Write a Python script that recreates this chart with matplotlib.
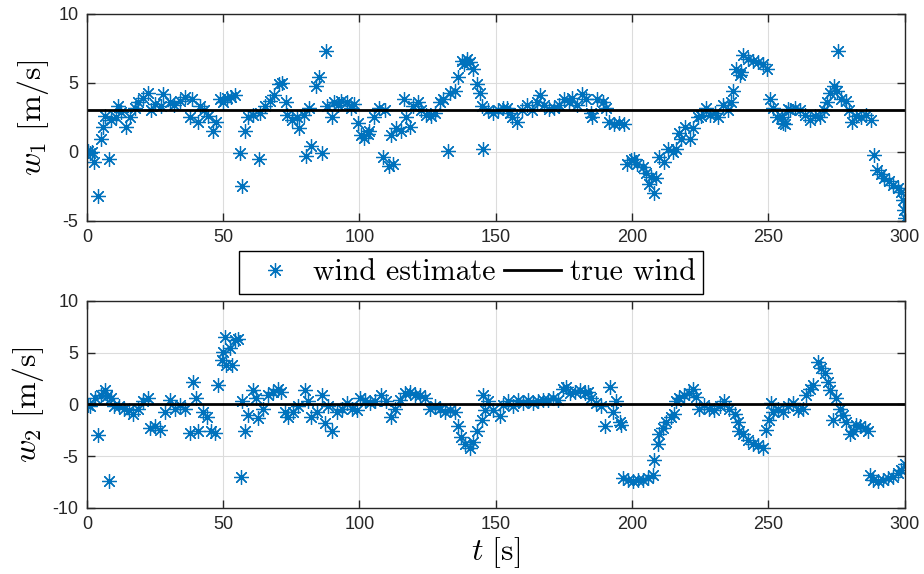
import matplotlib
matplotlib.use("Agg")
import matplotlib.pyplot as plt
import numpy as np

# estimated wind, first component
t1 = [0.3, 1.0, 2.0, 2.8, 4.0, 5.2, 5.8, 6.5, 8.0, 8.9, 10.6, 11.4, 12.5, 14.5, 15.7,
      17.5, 18.8, 20.5, 22.4, 23.7, 25.0, 27.1, 28.0, 30.4, 32.0, 34.0, 36.0, 37.8, 38.4,
      40.9, 41.5, 43.0, 44.6, 46.4, 47.5, 48.9, 50.0, 51.3, 52.8, 54.4, 56.0, 56.9, 58.1,
      59.3, 61.0, 63.0, 63.6, 65.5, 67.3, 68.6, 70.4, 71.6, 72.9, 73.5, 75.3, 77.2, 77.8,
      79.6, 80.3, 81.5, 82.1, 83.9, 85.2, 86.4, 87.6, 88.2, 90.1, 90.7, 92.0, 93.2, 95.6,
      96.8, 98.0, 99.3, 100.6, 101.8, 103.0, 103.6, 105.5, 107.3, 108.6, 109.2, 111.0,
      111.6, 112.2, 113.4, 115.3, 116.5, 117.1, 118.4, 119.6, 121.4, 122.7, 124.5, 126.4,
      127.6, 129.4, 130.7, 132.5, 133.1, 135.0, 136.2, 137.5, 138.4, 139.3, 140.6, 141.8,
      143.0, 144.2, 144.8, 145.5, 147.3, 149.1, 151.0, 152.8, 154.0, 155.2, 155.9, 157.7,
      159.6, 161.4, 163.3, 165.1, 166.3, 167.6, 169.4, 171.3, 173.1, 175.0, 176.8, 178.1,
      179.9, 181.7, 183.0, 184.8, 185.5, 187.3, 189.2, 190.4, 191.6, 193.5, 195.3, 197.2,
      198.3, 199.5, 200.8, 202.0, 203.9, 205.1, 206.4, 207.0, 208.2, 208.8, 210.0, 211.9,
      213.1, 215.0, 216.2, 217.4, 218.0, 219.3, 221.1, 222.3, 224.2, 225.4, 227.2, 228.5,
      230.3, 231.5, 233.4, 235.2, 236.4, 237.1, 238.3, 239.5, 240.1, 240.8, 242.6, 244.5,
      246.3, 248.2, 249.4, 250.6, 251.9, 253.1, 254.9, 255.5, 256.1, 257.4, 258.0, 259.8,
      261.7, 263.5, 265.4, 267.2, 269.1, 270.3, 271.5, 272.8, 274.0, 275.3, 275.6, 276.5,
      278.4, 279.6, 280.8, 282.1, 283.9, 285.7, 287.6, 288.8, 290.0, 291.3, 292.5, 294.3,
      295.6, 297.4, 298.6, 299.3, 299.7, 300.0]
w1 = [0.1, -0.1, 0.0, -0.7, -3.2, 0.9, 1.8, 2.6, -0.5, 2.3, 2.5, 3.3, 2.9, 1.8, 2.5,
      3.2, 3.6, 3.9, 4.3, 3.0, 3.5, 3.3, 4.2, 3.6, 3.4, 3.7, 4.0, 2.5, 3.8,
      2.2, 3.3, 3.0, 2.6, 1.5, 2.2, 3.8, 3.6, 3.9, 4.0, 4.1, -0.1, -2.5, 1.5,
      2.5, 2.7, -0.5, 2.8, 3.3, 3.7, 4.1, 4.9, 5.0, 3.6, 2.7, 2.3, 2.5, 1.7,
      2.7, -0.3, 3.2, 0.4, 4.8, 5.4, -0.1, 7.3, 3.3, 2.5, 3.6, 3.4, 3.7, 3.6,
      3.2, 3.5, 2.1, 1.2, 1.0, 1.3, 1.5, 2.5, 3.2, -0.4, 3.0, -1.0,
      1.2, -0.9, 1.7, 1.5, 3.8, 2.5, 1.8, 3.3, 3.6, 3.0, 2.7, 2.6,
      2.8, 3.6, 3.8, 0.1, 4.3, 4.4, 5.4, 6.6, 6.4, 6.7, 6.5, 6.0,
      4.9, 4.3, 3.3, 0.2, 3.0, 2.8, 3.0, 3.2, 3.2, 2.8, 2.5, 2.2,
      3.0, 3.4, 3.0, 3.6, 4.1, 3.4, 3.1, 3.2, 3.4, 3.8, 3.6, 3.9,
      3.4, 4.2, 3.8, 2.8, 2.5, 3.8, 3.6, 3.2, 2.2, 2.0, 2.1, 2.0,
      -0.9, -0.6, -0.5, -0.9, -1.1, -1.5, -2.3, -1.8, -3.0, -1.9, -0.4, -0.7,
      0.2, 0.0, 0.2, 1.4, 0.9, 1.8, 0.9, 1.7, 2.5, 2.6, 3.2, 2.7,
      2.8, 2.5, 3.4, 3.0, 3.6, 4.4, 6.0, 5.6, 5.8, 7.0, 6.7, 6.6,
      6.5, 6.4, 6.0, 3.8, 3.2, 2.5, 2.5, 2.1, 2.0, 3.1, 3.0, 3.2,
      3.0, 2.7, 2.3, 2.6, 2.5, 3.0, 3.6, 4.3, 4.8, 4.4, 7.3, 3.8,
      3.7, 3.0, 2.2, 2.6, 2.5, 2.7, 2.3, -0.2, -1.3, -1.6, -1.9, -2.1,
      -2.4, -2.6, -2.9, -3.5, -4.2, -4.8]

# estimated wind, second component
t2 = [0.3, 1.1, 2.9, 4.1, 5.3, 6.5, 7.5, 8.2, 8.9, 10.1, 11.9, 13.8, 15.6, 16.8, 18.6,
      20.5, 22.3, 23.1, 24.9, 26.7, 28.6, 30.4, 32.3, 34.1, 35.9, 37.8, 39.0, 40.2, 40.8,
      42.7, 43.9, 45.7, 47.0, 48.2, 49.4, 50.0, 50.6, 51.2, 52.5, 53.1, 54.3, 55.5, 56.7,
      56.8, 58.0, 59.2, 61.0, 62.2, 62.8, 64.6, 66.5, 68.3, 70.2, 71.4, 72.6, 73.8, 75.7,
      77.5, 80.0, 81.2, 82.4, 84.3, 86.1, 87.3, 88.6, 89.8, 91.6, 93.5, 95.3, 97.1, 99.0,
      100.2, 102.1, 103.8, 105.6, 108.0, 109.9, 111.7, 112.9, 114.8, 116.6, 118.4, 120.3,
      122.1, 124.0, 125.8, 127.6, 129.5, 131.3, 133.1, 135.0, 136.2, 137.4, 138.7, 140.5,
      141.7, 143.0, 144.8, 145.3, 146.0, 147.3, 149.1, 151.5, 152.8, 154.5, 156.3, 158.2,
      160.0, 161.8, 163.7, 165.5, 167.3, 169.2, 171.0, 172.8, 174.7, 175.9, 177.1, 179.0,
      180.8, 182.6, 183.9, 185.1, 186.9, 188.8, 190.0, 191.8, 193.1, 194.3, 195.5, 196.1,
      196.7, 198.5, 200.4, 202.2, 204.1, 205.9, 207.6, 208.2, 209.4, 210.0, 211.3, 212.5,
      214.3, 215.5, 216.2, 217.4, 219.2, 221.0, 222.3, 223.5, 224.7, 226.5, 228.4, 230.2,
      232.1, 233.9, 235.7, 237.6, 238.8, 239.4, 240.6, 242.5, 244.3, 246.1, 248.0, 249.2,
      250.4, 251.0, 251.7, 253.5, 255.4, 257.2, 259.0, 260.9, 262.7, 263.9, 265.2, 266.4,
      268.2, 269.4, 270.7, 271.9, 272.5, 273.7, 275.0, 276.2, 277.4, 278.6, 279.9, 281.1,
      282.3, 283.5, 285.4, 286.6, 287.2, 288.4, 290.3, 292.1, 293.9, 295.8, 297.6, 298.8,
      300.0]
w2 = [-0.1, -0.2, 0.6, -3.0, 0.9, 1.4, 0.8, -7.4, 0.6, -0.2, -0.2, -0.4, -0.5, -0.9, -0.4,
      0.3, 0.6, -2.3, -2.1, -2.5, -0.7, 0.4, -0.4, -0.1, -0.4, -2.8, 2.2, 0.6, -2.6,
      -0.7, -1.2, -2.6, -2.8, 1.9, 4.3, 5.1, 6.5, 3.8, 5.4, 3.8, 6.2, 6.3, -7.0,
      0.3, -2.6, -1.0, 1.4, 0.6, -1.3, -0.4, 0.9, 1.2, 1.5, 1.2, -0.7, -1.2, -0.7,
      -0.2, 1.4, 0.3, -1.2, -0.7, 0.9, -1.8, -0.2, -2.6, -0.7, -0.4, 0.1, -0.4, -0.5,
      0.6, 0.4, 0.1, 0.3, 0.9, 0.3, -1.2, -0.4, 0.4, 1.1, 1.2, 0.9,
      0.9, 0.6, -0.4, -0.2, -0.4, -0.7, -0.5, -0.7, -2.1, -3.1, -3.8, -4.2,
      -3.6, -2.6, -1.5, 0.9, -0.5, 0.3, -0.5, -1.1, -0.1, 0.3, -0.2, 0.4,
      0.1, 0.4, 0.1, 0.3, 0.4, 0.4, 0.6, 0.4, 1.5, 1.7, 1.1, 1.2,
      1.4, 1.1, 1.2, 0.6, 0.1, -0.2, -2.1, 1.7, -0.7, 0.3, -1.7, -2.0,
      -7.1, -7.3, -7.4, -7.3, -7.3, -7.1, -6.8, -5.4, -3.8, -2.9, -2.3, -1.7,
      -1.2, -0.9, 0.3, 0.6, 0.9, 1.1, 1.5, 0.7, -0.4, -0.1, -0.4, -0.5,
      -0.2, 0.3, -0.4, -0.9, -1.7, -2.6, -2.9, -3.4, -3.8, -3.9, -4.2, -2.5,
      -1.5, 0.1, -0.7, -0.4, -0.7, -0.2, 0.1, -0.5, -0.4, 0.9, 1.5, 1.9,
      4.1, 3.5, 3.0, 2.2, 1.4, -1.5, 0.6, -0.4, -1.0, -1.7, -2.9, -2.6,
      -2.0, -2.1, -2.3, -2.6, -6.8, -7.3, -7.4, -7.3, -7.1, -7.0, -6.6, -6.3,
      -5.8]

# constant true wind
true_w1 = 3.0
true_w2 = 0.0
t_span = [0, 300]

plt.rcParams["font.family"] = ["Liberation Sans", "DejaVu Sans"]
plt.rcParams["mathtext.fontset"] = "cm"
plt.rcParams["axes.unicode_minus"] = False

blue = "#0072BD"
star = (8, 2, 0)

fig = plt.figure(figsize=(9.24, 5.74), dpi=100)
ax1 = fig.add_axes([0.094, 0.615, 0.885, 0.361])
ax2 = fig.add_axes([0.094, 0.115, 0.885, 0.361])

ax1.plot(t1, w1, linestyle="none", marker=star, color=blue, markersize=10.5,
         markeredgewidth=0.9, label="wind estimate")
ax1.plot(t_span, [true_w1, true_w1], color="black", lw=2, label="true wind")
ax2.plot(t2, w2, linestyle="none", marker=star, color=blue, markersize=10.5,
         markeredgewidth=0.9)
ax2.plot(t_span, [true_w2, true_w2], color="black", lw=2)

ax1.set_ylim(-5, 10)
ax1.set_yticks([-5, 0, 5, 10])
ax2.set_ylim(-10, 10)
ax2.set_yticks([-10, -5, 0, 5, 10])
ax1.set_ylabel(r"$w_1\ [\mathrm{m/s}]$", fontsize=23, labelpad=5)
ax2.set_ylabel(r"$w_2\ [\mathrm{m/s}]$", fontsize=23, labelpad=5)
ax2.set_xlabel(r"$t\ [\mathrm{s}]$", fontsize=23, labelpad=1)

for ax in (ax1, ax2):
    ax.set_xlim(0, 300)
    ax.set_xticks([0, 50, 100, 150, 200, 250, 300])
    ax.grid(True, color="#dcdcdc", lw=0.8)
    ax.set_axisbelow(True)
    ax.tick_params(direction="in", top=True, right=True, length=6, width=1,
                   labelsize=13, colors="#262626", pad=6)
    for s in ax.spines.values():
        s.set_color("#262626")
        s.set_linewidth(1.0)

fig.legend(loc="center", bbox_to_anchor=(0.51, 0.525), ncol=2, numpoints=1,
           prop={"family": "cmr10", "size": 21.5}, frameon=True, fancybox=False,
           edgecolor="black", framealpha=1, handlelength=1.9, handletextpad=0.3,
           columnspacing=0.3, borderpad=0.25, borderaxespad=0)

fig.savefig("out.png", dpi=100)
